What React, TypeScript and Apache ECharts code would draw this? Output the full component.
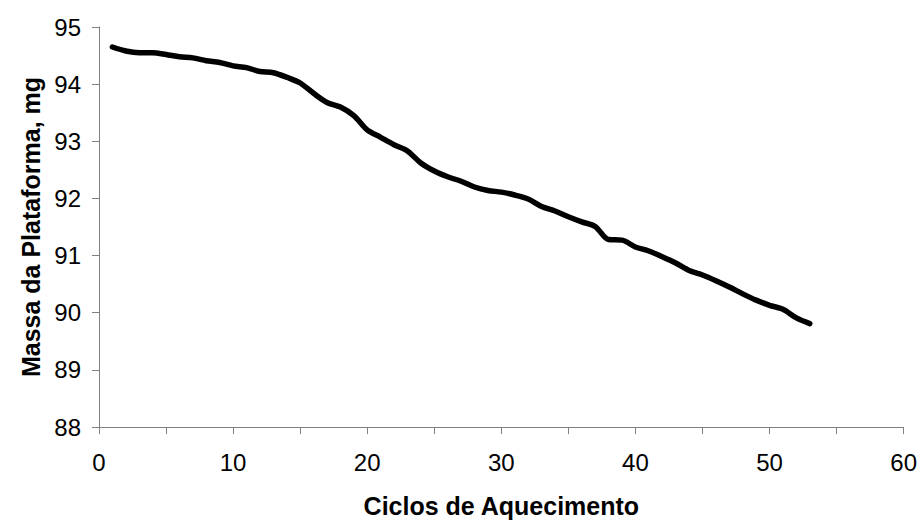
import React, { useEffect, useRef } from "react";
import * as echarts from "echarts";

const cycles = Array.from({ length: 53 }, (_, i) => i + 1);
const mass = [
  94.65, 94.58, 94.55, 94.55, 94.52, 94.48, 94.46, 94.41, 94.38, 94.32,
  94.29, 94.22, 94.2, 94.12, 94.02, 93.84, 93.68, 93.6, 93.45, 93.2,
  93.07, 92.94, 92.83, 92.62, 92.48, 92.38, 92.3, 92.2, 92.14, 92.11,
  92.06, 91.99, 91.86, 91.78, 91.68, 91.59, 91.51, 91.28, 91.27, 91.15,
  91.08, 90.98, 90.87, 90.74, 90.66, 90.56, 90.45, 90.33, 90.22, 90.13,
  90.06, 89.91, 89.81,
];
const xTitle = "Ciclos de Aquecimento";
const yTitle = "Massa da Plataforma, mg";

export default function App() {
  const ref = useRef<HTMLDivElement>(null);
  useEffect(() => {
    document.body.style.margin = "0";
    const chart = echarts.init(ref.current!, null, { renderer: "svg" });
    const font = "'Liberation Sans', Arial, sans-serif";
    chart.setOption({
      animation: false,
      backgroundColor: "#ffffff",
      grid: { left: 99, right: 6, top: 27, bottom: 92 },
      xAxis: {
        type: "value",
        min: 0,
        max: 60,
        interval: 10,
        name: xTitle,
        nameLocation: "middle",
        nameGap: 66,
        nameTextStyle: { fontFamily: font, fontSize: 25, fontWeight: "bold", color: "#000" },
        axisLine: { lineStyle: { color: "#808080", width: 1 } },
        axisTick: { show: true, length: 7, lineStyle: { color: "#808080" } },
        minorTick: { show: true, splitNumber: 2, length: 7, lineStyle: { color: "#808080" } },
        axisLabel: { fontFamily: font, fontSize: 24, color: "#000", margin: 23 },
        splitLine: { show: false },
      },
      yAxis: {
        type: "value",
        min: 88,
        max: 95,
        interval: 1,
        name: yTitle,
        nameLocation: "middle",
        nameGap: 56,
        nameRotate: 90,
        nameTextStyle: { fontFamily: font, fontSize: 25, fontWeight: "bold", color: "#000" },
        axisLine: { show: true, lineStyle: { color: "#808080", width: 1 } },
        axisTick: { show: true, length: 7, lineStyle: { color: "#808080" } },
        axisLabel: { fontFamily: font, fontSize: 24, color: "#000", margin: 18 },
        splitLine: { show: false },
      },
      series: [
        {
          type: "line",
          data: cycles.map((c, i) => [c, mass[i]]),
          showSymbol: false,
          smooth: 0.3,
          lineStyle: { color: "#000", width: 5.5, cap: "round", join: "round" },
        },
      ],
    });
    return () => chart.dispose();
  }, []);
  return <div ref={ref} style={{ width: 920, height: 523 }} />;
}
